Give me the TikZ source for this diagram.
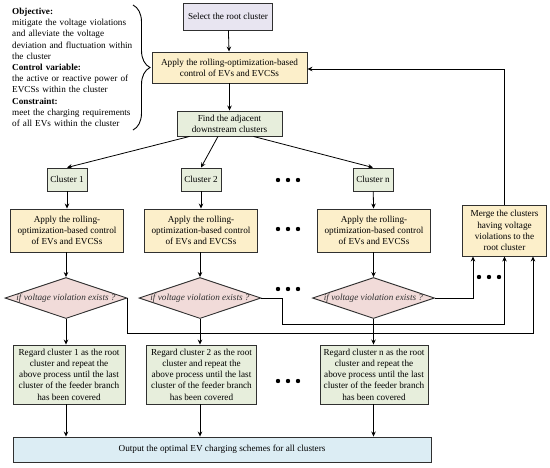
\documentclass[tikz,border=0pt]{standalone}
\usepackage{fontspec}
\setmainfont{Liberation Serif}
\usepackage{tikz}
\usetikzlibrary{shapes,shapes.geometric,arrows,positioning,calc,decorations.pathreplacing,arrows.meta}
\usepackage{xcolor}
\definecolor{edgegray}{HTML}{303030}
\definecolor{rootfill}{HTML}{E8E5F1}
\definecolor{ctrlfill}{HTML}{FCEFCA}
\definecolor{clusfill}{HTML}{E7EEDC}
\definecolor{askfill}{HTML}{F1DBD9}
\definecolor{outfill}{HTML}{DCEDF4}

\begin{document}
\begin{tikzpicture}[
    x=1pt, y=-1pt,
    every node/.style={font=\fontsize{9.2}{11.2}\selectfont},
    box/.style={rectangle, draw=edgegray, line width=0.9pt, align=center, inner sep=1pt},
    choice/.style={diamond, draw=edgegray, fill=askfill, line width=0.9pt, minimum width=122pt, minimum height=41pt, inner sep=0pt},
    asktext/.style={font=\fontsize{9.2}{11.2}\selectfont\itshape, text=edgegray},
    arrow/.style={->, >={Stealth[length=5pt,width=4.5pt]}, line width=0.8pt, draw=black},
    note/.style={align=left, text width=140pt, inner sep=0pt}
]
\useasboundingbox (0,0) rectangle (550,467);

% Objective / constraint notes
\node[note, anchor=north west] (notes) at (12,8) {
\textbf{Objective:}\\
mitigate the voltage violations\\
and alleviate the voltage\\
deviation and fluctuation within\\
the cluster\\
\textbf{Control variable:}\\
the active or reactive power of\\
EVCSs within the cluster\\
\textbf{Constraint:}\\
meet the charging requirements\\
of all EVs within the cluster
};
\draw[line width=0.9pt, decorate, decoration={brace, amplitude=17pt}] (133,5) -- (133,130);

% Top part
\node[box, fill=rootfill, minimum width=89pt, minimum height=27pt] (root) at (228,16.5) {Select the root cluster};
\node[box, fill=ctrlfill, minimum width=155pt, minimum height=31pt] (apply0) at (229.5,67.5) {Apply the rolling-optimization-based\\control of EVs and EVCSs};
\node[box, fill=clusfill, minimum width=105pt, minimum height=25pt] (find) at (229.5,123.5) {Find the adjacent\\downstream clusters};

% Clusters
\node[box, fill=clusfill, minimum width=40pt, minimum height=23pt] (c1) at (67,179.5) {Cluster 1};
\node[box, fill=clusfill, minimum width=40pt, minimum height=23pt] (c2) at (201,179.5) {Cluster 2};
\node[box, fill=clusfill, minimum width=40pt, minimum height=23pt] (cn) at (373,179.5) {Cluster n};

% Control of each cluster
\node[box, fill=ctrlfill, minimum width=113pt, minimum height=43pt] (a1) at (67,230.5) {Apply the rolling-\\optimization-based control\\of EVs and EVCSs};
\node[box, fill=ctrlfill, minimum width=113pt, minimum height=43pt] (a2) at (201,230.5) {Apply the rolling-\\optimization-based control\\of EVs and EVCSs};
\node[box, fill=ctrlfill, minimum width=113pt, minimum height=43pt] (an) at (374,230.5) {Apply the rolling-\\optimization-based control\\of EVs and EVCSs};

% Merge
\node[box, fill=ctrlfill, minimum width=84pt, minimum height=51pt] (merge) at (504.5,230.5) {Merge the clusters\\having voltage\\violations to the\\root cluster};

% Checks
\node[choice, label={[asktext]center:if voltage violation exists ?}] (d1) at (66,298) {};
\node[choice, label={[asktext]center:if voltage violation exists ?}] (d2) at (200,298) {};
\node[choice, label={[asktext]center:if voltage violation exists ?}] (dn) at (373.5,298) {};

% Regard as root
\node[box, fill=clusfill, minimum width=112pt, minimum height=59pt] (r1) at (69,374.5) {Regard cluster 1 as the root\\cluster and repeat the\\above process until the last\\cluster of the feeder branch\\has been covered};
\node[box, fill=clusfill, minimum width=110pt, minimum height=59pt] (r2) at (201.5,374.5) {Regard cluster 2 as the root\\cluster and repeat the\\above process until the last\\cluster of the feeder branch\\has been covered};
\node[box, fill=clusfill, minimum width=108pt, minimum height=59pt] (rn) at (374,374.5) {Regard cluster n as the root\\cluster and repeat the\\above process until the last\\cluster of the feeder branch\\has been covered};

% Output
\node[box, fill=outfill, minimum width=418pt, minimum height=25pt] (out) at (222,449.5) {Output the optimal EV charging schemes for all clusters};

% Ellipses
\foreach \y in {180,229,289,381}
  \foreach \x in {278,288,298}
    \fill (\x,\y) circle (2.2pt);
\foreach \x in {479,489,499}
  \fill (\x,277) circle (2.2pt);

% Arrows
\draw[arrow] (root) -- (apply0);
\draw[arrow] (apply0) -- (find);
\draw[arrow] ([xshift=-40pt]find.south) -- (c1.north);
\draw[arrow] ([xshift=-11.5pt]find.south) -- (c2.north);
\draw[arrow] ([xshift=24pt]find.south) -- (cn.north);
\draw[arrow] (c1) -- (a1);
\draw[arrow] (c2) -- (a2);
\draw[arrow] (cn) -- (an);
\draw[arrow] (a1.south -| d1) -- (d1.north);
\draw[arrow] (a2.south -| d2) -- (d2.north);
\draw[arrow] (an.south -| dn) -- (dn.north);
\draw[arrow] (d1.south) -- (d1.south |- r1.north);
\draw[arrow] (d2.south) -- (d2.south |- r2.north);
\draw[arrow] (dn.south) -- (dn.south |- rn.north);
\draw[arrow] (r1.south -| d1) -- (d1 |- out.north);
\draw[arrow] (r2.south -| d2) -- (d2 |- out.north);
\draw[arrow] (rn.south -| dn) -- (dn |- out.north);

% Back to the merge box
\draw[arrow] (dn.east) -| ([xshift=-31.5pt]merge.south);
\draw[arrow] (d2.east) -- ++(21,0) -- ++(0,26) -| (merge.south);
\draw[arrow] (d1.east) -- ++(0,35) -| ([xshift=28.5pt]merge.south);
\draw[arrow] (merge.north) |- ([yshift=-1.5pt]apply0.east);

\end{tikzpicture}
\end{document}
